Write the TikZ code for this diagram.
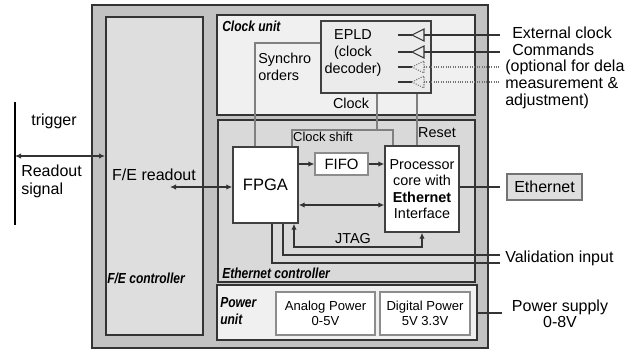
\documentclass[tikz,border=0pt]{standalone}
\usepackage{fontspec}
\setmainfont{Liberation Sans}
\usetikzlibrary{arrows.meta}

\tikzset{
	sz/.style 2 args={minimum width=#1*0.75pt, minimum height=#2*0.75pt, inner sep=0pt},
	unitbox/.style={draw=black!80, line width=1.5pt},
	blk/.style={draw=black!75, line width=1.1pt, fill=white, align=center},
	pbox/.style={draw=black!45, line width=0.9pt, fill=white, align=center},
	unitlbl/.style={font=\fontsize{9.5}{11}\selectfont\bfseries\itshape, inner sep=0pt, align=left, yscale=1.15, xscale=0.95, transform shape},
	txtbig/.style={font=\fontsize{12}{12.8}\selectfont, inner sep=0pt},
	txtmid/.style={font=\fontsize{10.8}{12.6}\selectfont, inner sep=0pt},
	txtsmall/.style={font=\fontsize{9.7}{11.3}\selectfont, inner sep=0pt},
	sig/.style={draw=black!80, line width=0.8pt},
	grline/.style={draw=black!50, line width=0.8pt},
	dotline/.style={draw=black!55, line width=0.8pt, densely dotted},
	onearrow/.style={-{Latex[length=4.5pt,width=4pt]}},
	twoarrow/.style={{Latex[length=4.5pt,width=4pt]}-{Latex[length=4.5pt,width=4pt]}}
}

\begin{document}
\begin{tikzpicture}[x=0.75pt, y=-0.75pt]
	\useasboundingbox[fill=white] (0,0) rectangle (641,350);

	\node[unitbox, fill=black!24, sz={396}{343}] (outer) at (290,176.5) {};
	\node[unitbox, fill=black!13, sz={97}{318}] (fectl) at (154.5,176) {};
	\node[unitbox, fill=black!6, sz={258}{100}] (clk) at (346,65) {};
	\node[unitbox, fill=black!15, sz={257}{162}] (ethc) at (346.5,201) {};
	\node[unitbox, fill=black!6, sz={260}{55}] (pwr) at (347,312.5) {};

	\node[unitlbl, anchor=west] at (107,278) {F/E controller};
	\node[unitlbl, anchor=west] at (222,26) {Clock unit};
	\node[unitlbl, anchor=west] at (222,273) {Ethernet controller};
	\node[unitlbl, anchor=west] at (220,311) {Power\\unit};

	\node[blk, fill=black!8, sz={110}{72}] (epld) at (376,57) {};
	\node[txtmid, align=center] (epldtxt) at (353,53) {EPLD\\(clock\\decoder)};
	\foreach \y in {35,52} {
		\draw[sig] (398,\y) -- (412,\y);
		\draw[sig, fill=black!8] (412,\y) -- (424,\y-6) -- (424,\y+6) -- cycle;
		\draw[sig] (424,\y) -- (500,\y);
	}
	\foreach \y in {67,82} {
		\draw[sig] (398,\y) -- (412,\y);
		\draw[dotline] (412,\y) -- (424,\y-6) -- (424,\y+6) -- cycle;
		\draw[dotline] (424,\y) -- (500,\y);
	}
	\node[txtbig, align=left, anchor=west] (extclk) at (512,41.5) {External clock\\Commands};
	\node[txtbig, align=left, anchor=west] (optl) at (505,84.5) {(optional for dela\\measurement \&\\adjustment)};

	\node[blk, sz={65}{76}, font=\fontsize{12.4}{14}\selectfont] (fpga) at (265.5,185) {FPGA};
	\node[pbox, sz={53}{22}, font=\fontsize{11.2}{13}\selectfont] (fifo) at (341.5,164) {FIFO};
	\node[blk, sz={74}{86}, font=\fontsize{10.8}{12.4}\selectfont] (proc) at (422,189) {Processor\\core with\\\textbf{Ethernet}\\Interface};
	\node[draw=black!55, line width=0.9pt, fill=black!13, sz={75}{26}, font=\fontsize{12}{14}\selectfont] (eth) at (544.5,187) {Ethernet};

	\draw[grline] (fpga.north -| 255,0) -- (255,43) -- (epld.west |- 0,43);
	\node[txtmid, align=left, anchor=west] at (258,67) {Synchro\\orders};
	\draw[grline] (epld.south -| 377,0) -- (377,130);
	\draw[grline] (epld.south -| 417,0) -- (proc.north -| 417,0);
	\draw[grline] (fpga.north -| 292,0) -- (292,130) -- (393,130) -- (proc.north -| 393,0);
	\node[txtmid] at (351,103) {Clock};
	\node[txtsmall] at (323,137) {Clock shift};
	\node[txtmid] at (437,133) {Reset};

	\draw[sig, onearrow] (fpga.east |- fifo) -- (fifo);
	\draw[sig, onearrow] (fifo) -- (fifo -| proc.west);
	\draw[sig, twoarrow] (fpga.east |- 0,205) -- (proc.west |- 0,205);
	\draw[sig, twoarrow] (fpga.south -| 294,0) -- (294,247) -- (422,247) -- (proc.south -| 422,0);
	\node[txtmid] at (353,239) {JTAG};

	\coordinate (val1) at (500,255);
	\coordinate (val2) at (500,263);
	\draw[sig] (fpga.south -| 283,0) |- (val1);
	\draw[sig] (fpga.south -| 272,0) |- (val2);
	\node[txtbig, anchor=west] at (505,258) {Validation input};

	\draw[sig] (proc.east |- eth.west) -- ([xshift=-5pt]eth.west);

	\node[txtbig] (ferd) at (154,175) {F/E readout};
	\coordinate (ferdend) at (170,187);
	\draw[sig, twoarrow] (ferdend) -- (fpga.west |- ferdend);

	\coordinate (trigtop) at (15,102);
	\coordinate (trigbot) at (15,225);
	\draw[line width=1.8pt] (trigtop) -- (trigbot);
	\draw[sig, twoarrow] (15,156) -- (fectl.west |- 0,156);
	\node[txtbig] at (54,121) {trigger};
	\node[txtbig, align=left, anchor=west, font=\fontsize{12}{13.5}\selectfont] at (21,181) {Readout\\signal};

	\node[pbox, sz={99}{43}, font=\fontsize{9.8}{11.3}\selectfont] (ana) at (325.5,313.5) {Analog Power\\0-5V};
	\node[pbox, sz={90}{43}, font=\fontsize{9.8}{11.3}\selectfont] (dig) at (425,313.5) {Digital Power\\5V 3.3V};
	\coordinate (psend) at (502,313);
	\draw[sig] (pwr.east |- psend) -- (psend);
	\node[txtbig, align=center, font=\fontsize{12}{12}\selectfont] at (560,314) {Power supply\\0-8V};
\end{tikzpicture}
\end{document}
